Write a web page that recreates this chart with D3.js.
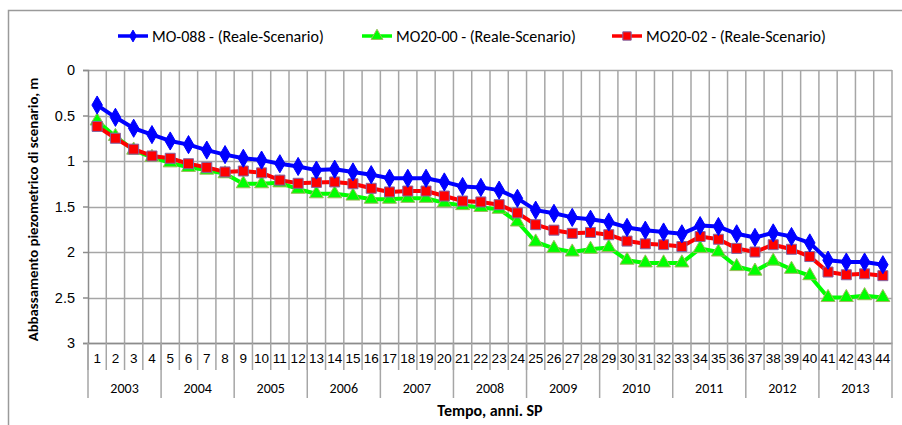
<!DOCTYPE html>
<html><head><meta charset="utf-8">
<script src="https://cdn.jsdelivr.net/npm/d3@7"></script>
<style>
html,body{margin:0;padding:0;background:#fff;}
svg{display:block;font-family:Carlito, Calibri, Lato, "Liberation Sans", sans-serif;}
</style></head>
<body><svg id="c" width="902" height="425"></svg>
<script>
const categories = d3.range(1, 45).map(String);
const years = ["2003","2004","2005","2006","2007","2008","2009","2010","2011","2012","2013"];
const yTicks = [0, 0.5, 1, 1.5, 2, 2.5, 3];
const seriesNames = ["MO-088 - (Reale-Scenario)", "MO20-00 - (Reale-Scenario)", "MO20-02 - (Reale-Scenario)"];
const mo088 = [0.385,0.52,0.64,0.71,0.78,0.82,0.88,0.93,0.97,0.99,1.03,1.06,1.10,1.09,1.12,1.15,1.19,1.19,1.19,1.23,1.28,1.29,1.32,1.41,1.54,1.575,1.62,1.64,1.67,1.73,1.76,1.78,1.80,1.71,1.72,1.80,1.84,1.79,1.83,1.90,2.09,2.11,2.11,2.14];
const mo2000 = [0.56,0.73,0.88,0.96,1.02,1.07,1.10,1.14,1.25,1.25,1.24,1.31,1.36,1.36,1.385,1.42,1.42,1.41,1.41,1.46,1.49,1.51,1.53,1.67,1.89,1.96,2.0,1.97,1.95,2.09,2.12,2.12,2.12,1.96,2.0,2.16,2.21,2.10,2.19,2.26,2.50,2.50,2.48,2.50];
const mo2002 = [0.62,0.75,0.87,0.945,0.97,1.03,1.07,1.12,1.11,1.13,1.21,1.245,1.235,1.23,1.25,1.30,1.34,1.33,1.33,1.385,1.44,1.45,1.48,1.57,1.70,1.76,1.795,1.785,1.81,1.88,1.91,1.92,1.94,1.83,1.86,1.96,2.0,1.92,1.97,2.05,2.22,2.25,2.24,2.26];

const svg = d3.select("#c");
const L = 88, R = 892, T = 70, B = 343;
const x = d3.scaleBand().domain(categories).range([L, R]).padding(0);
const y = d3.scaleLinear().domain([0, 3]).range([T, B]);
const bw = x.bandwidth();

// outer frame
svg.append("path").attr("d", `M8.5,425 V10.5 H902`).attr("fill","none").attr("stroke","#9a9a9a").attr("stroke-width",1.5);

// horizontal gridlines
svg.append("g").selectAll("line").data(yTicks).join("line")
  .attr("x1", L).attr("x2", R).attr("y1", d => Math.round(y(d))+0.5).attr("y2", d => Math.round(y(d))+0.5)
  .attr("stroke", "#a6a6a6").attr("stroke-width", 1.5);
// vertical gridlines at category boundaries
svg.append("g").selectAll("line").data(categories.slice(1)).join("line")
  .attr("x1", d => x(d)).attr("x2", d => x(d)).attr("y1", T).attr("y2", B)
  .attr("stroke", "#a6a6a6").attr("stroke-width", 1.5);
svg.append("line").attr("x1", R).attr("x2", R).attr("y1", T).attr("y2", B).attr("stroke", "#a6a6a6").attr("stroke-width", 1.5);

// y axis
const yAxis = d3.axisLeft(y).tickValues(yTicks).tickSize(5).tickPadding(8).tickFormat(d3.format("~g"));
const gy = svg.append("g").attr("transform", `translate(${L},0)`).call(yAxis);
gy.select(".domain").attr("stroke", "#8c8c8c").attr("stroke-width", 1.5);
gy.selectAll(".tick line").attr("stroke", "#8c8c8c").attr("stroke-width", 1.5);
gy.selectAll(".tick text").attr("font-size", 14.5).attr("fill", "#000").attr("font-family", null);

// x axis: category numbers
const xAxis = d3.axisBottom(x).tickSize(0).tickPadding(10);
const gx = svg.append("g").attr("transform", `translate(0,${B})`).call(xAxis);
gx.select(".domain").attr("stroke", "#8c8c8c").attr("stroke-width", 1.5);
gx.selectAll(".tick text").attr("font-size", 13.5).attr("fill", "#000").attr("font-family", null);
// category separators below axis
svg.append("g").selectAll("line").data(categories).join("line")
  .attr("x1", d => x(d)).attr("x2", d => x(d)).attr("y1", B).attr("y2", B + 27)
  .attr("stroke", "#a6a6a6").attr("stroke-width", 1.5);
// year separators
const yearBounds = d3.range(0, years.length + 1).map(i => i === years.length ? R : x(categories[i * 4]));
svg.append("g").selectAll("line").data(yearBounds).join("line")
  .attr("x1", d => d).attr("x2", d => d).attr("y1", B).attr("y2", B + 55)
  .attr("stroke", "#a6a6a6").attr("stroke-width", 1.5);
svg.append("g").selectAll("text").data(years).join("text")
  .attr("x", (d, i) => (yearBounds[i] + yearBounds[i + 1]) / 2).attr("y", B + 50)
  .attr("text-anchor", "middle").attr("font-size", 14).text(d => d);

// titles
svg.append("text").attr("x", 490).attr("y", 416).attr("text-anchor", "middle")
  .attr("font-size", 16).attr("font-weight", "bold").text("Tempo, anni. SP");
svg.append("text").attr("transform", `translate(38,${(T + B) / 2 + 3}) rotate(-90)`).attr("text-anchor", "middle")
  .attr("font-size", 14.8).attr("font-weight", "bold").text("Abbassamento piezometrico di scenario, m");

// series
const cx = i => x(categories[i]) + bw / 2;
const series = [
  {name: seriesNames[1], vals: mo2000, color: "#00ff00", sym: d3.symbolTriangle, size: 85, stroke: "#9bbb59"},
  {name: seriesNames[2], vals: mo2002, color: "#ff0000", sym: d3.symbolSquare, size: 100, stroke: "#8064a2"},
  {name: seriesNames[0], vals: mo088, color: "#0000ff", sym: d3.symbolDiamond, size: 95, stroke: "#0000ff"}
];
const line = d3.line().x((d, i) => cx(i)).y(d => y(d));
series.forEach(s => {
  const g = svg.append("g");
  g.append("path").datum(s.vals).attr("d", line).attr("fill", "none").attr("stroke", s.color).attr("stroke-width", 4).attr("stroke-linejoin","round");
  g.selectAll("path.m").data(s.vals).join("path").attr("class", "m")
    .attr("transform", (d, i) => `translate(${cx(i)},${y(d)})`)
    .attr("d", d3.symbol(s.sym, s.size)).attr("fill", s.color).attr("stroke", s.stroke).attr("stroke-width", 1);
});

// legend
const legend = [
  {name: seriesNames[0], color: "#0000ff", sym: d3.symbolDiamond, size: 40, stroke: "#0000ff", x: 118},
  {name: seriesNames[1], color: "#00ff00", sym: d3.symbolTriangle, size: 60, stroke: "#9bbb59", x: 362},
  {name: seriesNames[2], color: "#ff0000", sym: d3.symbolSquare, size: 70, stroke: "#8064a2", x: 612}
];
const lg = svg.append("g").selectAll("g").data(legend).join("g").attr("transform", d => `translate(${d.x},36)`);
lg.append("line").attr("x1", 0).attr("x2", 30).attr("stroke", d => d.color).attr("stroke-width", 3.5);
lg.append("path").attr("transform", "translate(15,0)").attr("d", d => d3.symbol(d.sym, d.size)()).attr("fill", d => d.color).attr("stroke", d => d.stroke);
lg.append("text").attr("x", 34).attr("y", 5.5).attr("font-size", 16).text(d => d.name);
</script></body></html>
